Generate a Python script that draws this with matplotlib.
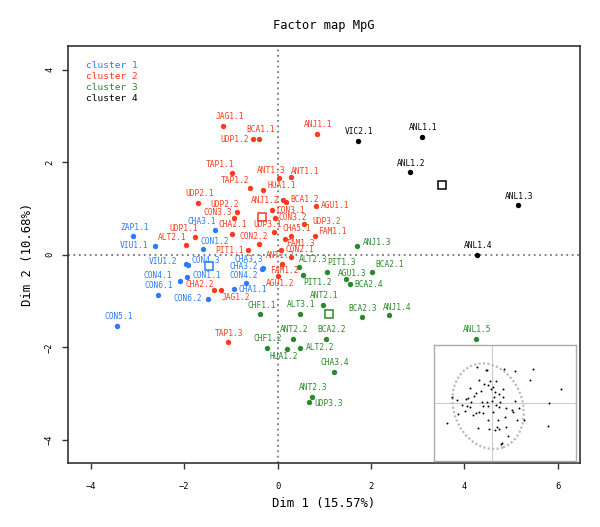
import matplotlib
matplotlib.use("Agg")
import matplotlib.pyplot as plt
from matplotlib.patches import Ellipse

plt.rcParams['font.family'] = ['DejaVu Sans Mono']

# individuals: name, Dim 1, Dim 2, cluster
names_c1 = ["ZAP1.1", "VIU1.1", "CHA3.1", "CON1.2", "VIU1.2", "CON4.3", "CON1.1", "CON4.1",
            "CON6.1", "CON6.2", "CHA1.1", "CON4.2", "CHA3.3", "CHA3.2", "CON5.1"]
x_c1 = [-3.09, -2.63, -1.35, -1.60, -1.96, -1.91, -1.93, -2.09, -2.57, -1.49, -0.93, -0.68, -0.31, -0.34, -3.43]
y_c1 = [0.40, 0.20, 0.53, 0.12, -0.20, -0.21, -0.49, -0.57, -0.86, -0.95, -0.73, -0.61, -0.28, -0.30, -1.53]

names_c2 = ["JAG1.1", "BCA1.1", "UDP1.2", "ANJ1.1", "TAP1.1", "ANT1.3", "ANT1.1", "TAP1.2", "HUA1.1",
            "ANJ1.2", "BCA1.2", "AGU1.1", "CON3.1", "CON3.2", "UDP2.1", "UDP2.2", "CON3.3", "CHA2.1",
            "UDP1.1", "ALT2.1", "CON2.2", "PIT1.1", "UDP3.1", "UDP3.2", "CHA5.1", "FAM1.1", "FAM1.3",
            "CON2.1", "ANT1.2", "FAM1.2", "AGU1.2", "CHA2.2", "JAG1.2", "TAP1.3"]
x_c2 = [-1.17, -0.39, -0.52, 0.85, -0.97, 0.03, 0.28, -0.59, -0.31,
        0.11, 0.19, 0.83, -0.11, -0.05, -1.70, -0.87, -0.93, -0.98,
        -1.76, -1.97, -0.40, -0.63, -0.07, 0.57, 0.28, 0.80, 0.15,
        0.08, 0.29, 0.10, 0.00, -1.36, -1.22, -1.06]
y_c2 = [2.79, 2.51, 2.50, 2.62, 1.76, 1.65, 1.69, 1.44, 1.41,
        1.18, 1.14, 1.06, 0.96, 0.80, 1.13, 0.92, 0.79, 0.46,
        0.39, 0.22, 0.24, 0.10, 0.50, 0.67, 0.41, 0.40, 0.34,
        0.11, -0.04, -0.19, -0.45, -0.77, -0.76, -1.89]

names_c3 = ["ANJ1.3", "ALT2.3", "PIT1.2", "PIT1.3", "AGU1.3", "BCA2.4", "BCA2.1", "ANT2.1", "ALT3.1",
            "BCA2.3", "ANJ1.4", "ANT2.2", "BCA2.2", "CHF1.1", "CHF1.2", "HUA1.2", "ALT2.2", "CHA3.4",
            "ANT2.3", "UDP3.3", "ANL1.5"]
x_c3 = [1.71, 0.46, 0.54, 1.05, 1.47, 1.55, 2.03, 0.97, 0.48,
        1.80, 2.38, 0.33, 1.03, -0.37, -0.23, 0.20, 0.49, 1.20,
        0.73, 0.67, 4.25]
y_c3 = [0.19, -0.26, -0.44, -0.37, -0.53, -0.63, -0.37, -1.08, -1.27,
        -1.35, -1.31, -1.81, -1.81, -1.29, -2.01, -2.03, -2.01, -2.53,
        -3.07, -3.18, -1.81]

names_c4 = ["VIC2.1", "ANL1.1", "ANL1.2", "ANL1.3", "ANL1.4"]
x_c4 = [1.72, 3.09, 2.84, 5.16, 4.28]
y_c4 = [2.46, 2.55, 1.78, 1.07, 0.00]

# cluster centres
centre_x = [-1.46, -0.34, 1.10, 3.52]
centre_y = [-0.24, 0.82, -1.27, 1.51]

cluster_names = ["cluster 1", "cluster 2", "cluster 3", "cluster 4"]
colors = ["#2B7BFF", "#FF3A1E", "#2A8A2A", "black"]

# label nudges in pixels (dx right, dy up); default is right above the point
label_shift = {
    "JAG1.1": (7, 9), "UDP1.2": (-19, 0), "TAP1.1": (-12, 9), "ANT1.3": (-8, 8), "ANT1.1": (14, 5),
    "TAP1.2": (-15, 8), "HUA1.1": (19, 4), "ANJ1.2": (-18, 0), "BCA1.2": (18, 3), "AGU1.1": (19, 0),
    "CON3.1": (18, 0), "CON3.2": (18, 0), "UDP2.2": (-12, 8), "CON3.3": (-16, 6), "UDP1.1": (-12, 8),
    "ALT2.1": (-13, 7), "CON2.2": (-5, 7), "PIT1.1": (-19, 0), "UDP3.1": (-7, 7), "UDP3.2": (22, 2),
    "CHA5.1": (6, 7), "FAM1.1": (17, 5), "FAM1.3": (16, -4), "CON2.1": (18, 0), "ANT1.2": (-11, 1),
    "FAM1.2": (2, -7), "AGU1.2": (3, -8), "CHA2.2": (-14, 6), "JAG1.2": (15, -8),
    "VIU1.1": (-21, 0), "CHA3.1": (-13, 9), "CON1.2": (12, 8), "VIU1.2": (-23, 3), "CON4.3": (17, 4),
    "CON1.1": (19, 2), "CON4.1": (-22, 6), "CON6.2": (-20, 0), "CHA1.1": (19, -1), "CON4.2": (-2, 8),
    "CHA3.3": (-14, 8), "CHA3.2": (-18, 2),
    "ANJ1.3": (20, 4), "ALT2.3": (14, 7), "PIT1.2": (15, -7), "PIT1.3": (15, 9), "AGU1.3": (6, 6),
    "BCA2.4": (19, -1), "BCA2.1": (17, 7), "ANJ1.4": (8, 8), "BCA2.2": (6, 9), "HUA1.2": (-3, -8),
    "ALT2.2": (20, 0), "UDP3.3": (20, -2),
}

# inset: partial axes / individuals overview
inset_x = [-1.57, -0.57, -0.67, 1.13, 2.27, 4.10, 3.77, -1.30, -0.23, 0.37, -0.80, -0.40, 0.10, -2.23,
           -0.17, 1.03, 0.27, -1.17, -1.63, 0.67, 0.17, -2.40, -4.07, -1.80, 1.03, -3.50, -2.13, -2.67,
           -1.07, -0.57, -0.07, 0.77, 2.27, -0.40, 0.37, -2.57, -0.90, 0.67, 1.37, 2.67, 1.93, 2.03,
           -2.73, -1.30, -1.63, -1.90, -0.97, -3.47, 0.03, -4.57, 1.27, -0.47, 0.57, 2.43, 3.17, -1.47,
           -0.30, 0.43, 0.27, 0.70, 1.37, 1.60, 0.93, 0.83, 5.63, 6.83, 5.60, -2.23, -3.07]
inset_y = [3.63, 3.30, 3.30, 3.43, 3.23, 3.37, 2.33, 2.33, 2.20, 2.20, 1.87, 1.83, 1.57, 1.53,
           1.37, 1.37, 1.13, 1.17, 0.97, 0.87, 0.63, 0.53, 0.60, 0.70, 0.60, 0.27, 0.13, 0.37,
           0.13, 0.13, 0.20, 0.13, 0.23, -0.27, -0.20, -0.27, -0.30, -0.37, -0.50, -0.47, -0.73, -0.87,
           -0.77, -0.87, -1.00, -1.17, -1.03, -1.10, -0.93, -2.00, -1.37, -1.70, -1.70, -1.73, -1.73, -2.47,
           -2.63, -2.37, -2.70, -2.60, -2.40, -3.27, -3.97, -4.13, 0.00, 1.43, -2.33, -0.37, -0.20]

xs = [x_c1, x_c2, x_c3, x_c4]
ys = [y_c1, y_c2, y_c3, y_c4]
labels = [names_c1, names_c2, names_c3, names_c4]

fig = plt.figure(figsize=(6.0, 5.27), dpi=100)
ax = fig.add_axes([0.1133, 0.1205, 0.8534, 0.792])

ax.axhline(0, color="#777777", linestyle=(0, (1, 2)), linewidth=1.3, zorder=0)
ax.axvline(0, color="#777777", linestyle=(0, (1, 2)), linewidth=1.3, zorder=0)

for k in range(4):
    ax.scatter(xs[k], ys[k], s=15, color=colors[k], linewidths=0, zorder=3)
    for name, x, y in zip(labels[k], xs[k], ys[k]):
        dx, dy = label_shift.get(name, (1, 9))
        ax.annotate(name, (x, y), xytext=(dx, dy), textcoords="offset pixels",
                    ha="center", va="center", fontsize=5.7, color=colors[k], zorder=4)
    ax.plot(centre_x[k], centre_y[k], marker="s", markersize=5.5, markerfacecolor="white",
            markeredgecolor=colors[k], markeredgewidth=1.1, linestyle="none", zorder=3)

for i, (name, c) in enumerate(zip(cluster_names, colors)):
    ax.text(0.035, 0.954 - i * 0.0265, name, transform=ax.transAxes, fontsize=6.8,
            color=c, ha="left", va="center")

ax.set_xlim(-4.49, 6.48)
ax.set_ylim(-4.51, 4.51)
ax.set_xticks([-4, -2, 0, 2, 4, 6])
ax.set_yticks([-4, -2, 0, 2, 4])
ax.tick_params(direction="out", length=4, width=1, labelsize=6.3, color="#333333")
ax.tick_params(axis="x", pad=9)
ax.tick_params(axis="y", pad=6)
for lab in ax.get_yticklabels():
    lab.set_rotation(90)
    lab.set_va("center")
for s in ax.spines.values():
    s.set_color("#333333")
    s.set_linewidth(1.2)

ax.set_xlabel("Dim 1 (15.57%)", fontsize=8.8, labelpad=5)
ax.set_ylabel("Dim 2 (10.68%)", fontsize=8.8, labelpad=8)
ax.set_title("Factor map MpG", fontsize=8.7, pad=12)

# small inset in the lower-right corner
ins = fig.add_axes([0.7233, 0.1247, 0.2372, 0.2207])
ins.axhline(0, color="#cccccc", linewidth=0.8, zorder=0)
ins.axvline(0, color="#cccccc", linewidth=0.8, zorder=0)
ins.add_patch(Ellipse((-0.42, -0.32), 6.9, 8.75, angle=20, fill=False,
                      edgecolor="#bbbbbb", linestyle=(0, (1, 1)), linewidth=1.6))
ins.scatter(inset_x, inset_y, s=2, color="black", linewidths=0, zorder=3)
ins.set_xlim(-5.83, 8.4)
ins.set_ylim(-5.83, 5.8)
ins.set_xticks([])
ins.set_yticks([])
for s in ins.spines.values():
    s.set_color("#aaaaaa")
    s.set_linewidth(1.0)

fig.savefig("out.png", dpi=100)
